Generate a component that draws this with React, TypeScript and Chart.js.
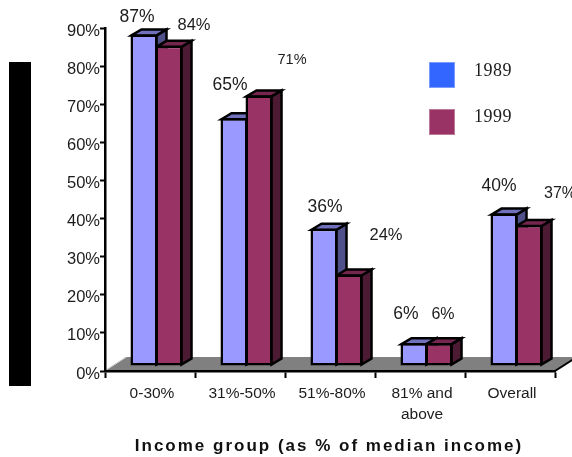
import React, { useEffect, useRef } from "react";
import { Chart, registerables } from "chart.js";

Chart.register(...registerables);

const categories = ["0-30%", "31%-50%", "51%-80%", ["81% and", "above"], "Overall"];
const rates1989 = [87, 65, 36, 6, 40];
const rates1999 = [84, 71, 24, 6, 37];
const axisTitle = "Income group (as % of median income)";

const SANS = '"Liberation Sans", Arial, sans-serif';
const SERIF = '"Liberation Serif", "Times New Roman", serif';
const TEXT = "#1c1c1c";

// Depth of the extruded bars and where the front faces sit relative to the axes.
const DEPTH_X = 10;
const DEPTH_Y = 6;
const FRONT_X = 6.5;
const FRONT_Y = -5;
const EDGE = 2.5;

const faces = [
  { front: "#9999ff", top: "#7070bd", side: "#50508a", key: "#3366ff" },
  { front: "#993366", top: "#74264f", side: "#4c1a33", key: "#993366" },
];

// Value labels float freely around the bars: [dx, dy, font size] from each bar's top.
const labelPlacement = [
  [[-7, -17, 17.5], [-4, -33, 17.5], [1, -22, 17.5], [-8, -29, 17.5], [-5, -27, 17.5]],
  [[25, -20, 16.5], [33, -35, 14.5], [37, -39, 16.5], [4, -29, 16], [31, -31, 16]],
];

// Key rows: swatch top and text centre.
const keyRows = [
  { top: 62, text: 71.5 },
  { top: 109, text: 117 },
];

const prismPlugin = {
  id: "prism",
  beforeDraw(chart: any) {
    // Grey floor the columns stand on.
    const { ctx, chartArea: a } = chart;
    const back = a.bottom - 14;
    ctx.save();
    ctx.fillStyle = "#808080";
    ctx.beginPath();
    ctx.moveTo(a.left, a.bottom);
    ctx.lineTo(a.left + 22, back);
    ctx.lineTo(a.right + 22, back);
    ctx.lineTo(a.right, a.bottom);
    ctx.closePath();
    ctx.fill();
    ctx.strokeStyle = "#000";
    ctx.lineWidth = 2;
    ctx.beginPath();
    ctx.moveTo(a.right, a.bottom);
    ctx.lineTo(a.right + 22, back);
    ctx.stroke();
    ctx.strokeStyle = "#c8c8c8";
    ctx.lineWidth = 1;
    ctx.beginPath();
    ctx.moveTo(a.left + 1, a.bottom - 1);
    ctx.lineTo(a.left + 21, back);
    ctx.stroke();
    ctx.restore();
  },
  beforeDatasetsDraw(chart: any) {
    const { ctx } = chart;
    ctx.save();
    ctx.translate(FRONT_X, FRONT_Y);
    ctx.strokeStyle = "#000";
    ctx.lineWidth = EDGE;
    ctx.lineJoin = "miter";
    chart.data.datasets.forEach((_: any, d: number) => {
      chart.getDatasetMeta(d).data.forEach((bar: any) => {
        const { x, y, base, width } = bar.getProps(["x", "y", "base", "width"], true);
        const l = x - width / 2 + 1;
        const r = x + width / 2 - 1;
        const t = y + 1;
        const b = base - 1;
        ctx.fillStyle = faces[d].side;
        ctx.beginPath();
        ctx.moveTo(r, t);
        ctx.lineTo(r + DEPTH_X, t - DEPTH_Y);
        ctx.lineTo(r + DEPTH_X, b - DEPTH_Y);
        ctx.lineTo(r, b);
        ctx.closePath();
        ctx.fill();
        ctx.stroke();
        ctx.fillStyle = faces[d].top;
        ctx.beginPath();
        ctx.moveTo(l, t);
        ctx.lineTo(l + DEPTH_X, t - DEPTH_Y);
        ctx.lineTo(r + DEPTH_X, t - DEPTH_Y);
        ctx.lineTo(r, t);
        ctx.closePath();
        ctx.fill();
        ctx.stroke();
      });
    });
    // Front faces are painted by the bar controller inside this same offset.
  },
  afterDatasetsDraw(chart: any) {
    chart.ctx.restore();
  },
  afterDraw(chart: any) {
    const { ctx, chartArea: a } = chart;
    ctx.save();
    ctx.fillStyle = TEXT;
    ctx.textAlign = "center";
    ctx.textBaseline = "middle";
    chart.data.datasets.forEach((set: any, d: number) => {
      chart.getDatasetMeta(d).data.forEach((bar: any, i: number) => {
        const { x, y } = bar.getProps(["x", "y"], true);
        const [dx, dy, size] = labelPlacement[d][i];
        ctx.font = `${size}px ${SANS}`;
        ctx.fillText(`${set.data[i]}%`, x + FRONT_X + dx, y + FRONT_Y + dy);
      });
    });

    // Axis title, tracked out.
    ctx.font = `bold 17px ${SANS}`;
    (ctx as any).letterSpacing = "2px";
    ctx.fillStyle = "#111";
    ctx.fillText(axisTitle, a.left + 224, 446);

    // Key for the two survey years.
    (ctx as any).letterSpacing = "0.5px";
    ctx.textAlign = "left";
    ctx.font = `18px ${SERIF}`;
    chart.data.datasets.forEach((set: any, d: number) => {
      const { top, text } = keyRows[d];
      ctx.fillStyle = faces[d].key;
      ctx.fillRect(429, top, 26, 26);
      ctx.strokeStyle = "rgba(255,255,255,0.35)";
      ctx.lineWidth = 1;
      ctx.strokeRect(429.5, top + 0.5, 25, 25);
      ctx.fillStyle = TEXT;
      ctx.fillText(set.label, 474, text);
    });
    ctx.restore();
  },
};

export default function App() {
  const ref = useRef<HTMLCanvasElement>(null);
  useEffect(() => {
    const chart = new Chart(ref.current as HTMLCanvasElement, {
      type: "bar",
      data: {
        labels: categories as any,
        datasets: [
          { label: "1989", data: rates1989, backgroundColor: faces[0].front },
          { label: "1999", data: rates1999, backgroundColor: faces[1].front },
        ].map((s) => ({
          ...s,
          borderColor: "#000",
          borderWidth: EDGE,
          borderSkipped: false,
          barPercentage: 1.08,
          categoryPercentage: 0.556,
          clip: false as any,
        })),
      },
      options: {
        responsive: false,
        animation: false,
        layout: { padding: { top: 28, right: 17, left: 0, bottom: 0 } },
        plugins: { legend: { display: false }, tooltip: { enabled: false } },
        scales: {
          x: {
            afterFit: (s: any) => {
              s.height = 86;
            },
            grid: { drawOnChartArea: false, tickLength: 7, tickWidth: 2, tickColor: "#000" },
            border: { color: "#000", width: 2.5 },
            ticks: {
              color: TEXT,
              font: { family: SANS, size: 15.5, lineHeight: 1.38 },
              maxRotation: 0,
              autoSkip: false,
              padding: 5,
              labelOffset: 2,
            },
          },
          y: {
            min: 0,
            max: 90,
            afterFit: (s: any) => {
              s.width = 105;
            },
            grid: { drawOnChartArea: false, tickLength: 5, tickWidth: 2, tickColor: "#000" },
            border: { color: "#000", width: 2.5 },
            ticks: {
              stepSize: 10,
              padding: 0,
              color: TEXT,
              labelOffset: 3,
              font: { family: SANS, size: 16.5 },
              callback: (v: any) => `${v}%`,
            },
          },
        },
      },
      plugins: [prismPlugin],
    });
    return () => chart.destroy();
  }, []);

  return (
    <div style={{ position: "absolute", left: 0, top: 0, width: 572, height: 457, background: "#fff" }}>
      <div style={{ position: "absolute", left: 9, top: 62, width: 22, height: 324, background: "#000" }} />
      <canvas ref={ref} width={572} height={457} style={{ position: "absolute", left: 0, top: 0 }} />
    </div>
  );
}
